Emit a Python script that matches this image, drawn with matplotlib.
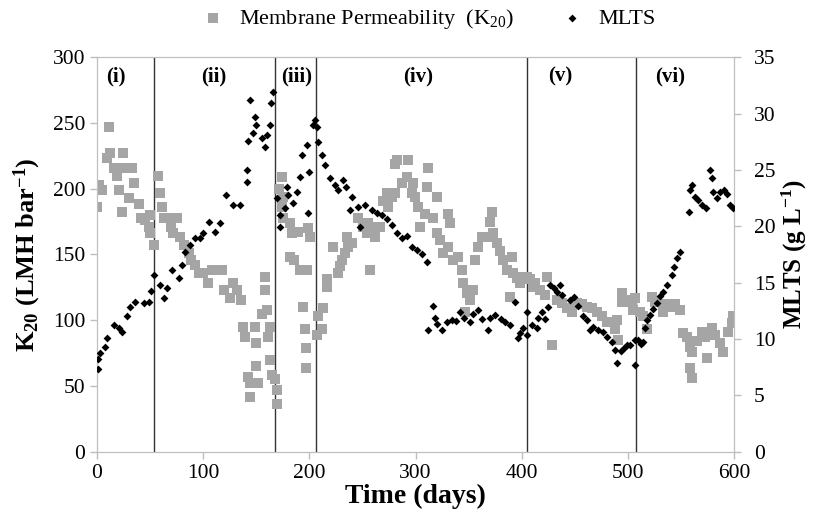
import matplotlib
matplotlib.use("Agg")
import matplotlib.pyplot as plt

plt.rcParams['font.family'] = ['Liberation Serif', 'DejaVu Serif']
plt.rcParams['mathtext.fontset'] = 'custom'
plt.rcParams['mathtext.rm'] = 'Liberation Serif'
plt.rcParams['mathtext.it'] = 'Liberation Serif:italic'
plt.rcParams['mathtext.bf'] = 'Liberation Serif:bold'

# membrane permeability K20 (LMH/bar) vs time (days)
k20_day = [0, 2, 5, 9.5, 11, 12, 16, 19, 21, 23.5, 25, 26, 30, 33, 35, 40, 42, 45, 49, 50, 50, 54,
           58, 59, 61, 63, 68, 70, 72, 75, 78, 82, 87, 89, 92, 96, 100, 105, 108, 114, 118, 120,
           125, 128, 132, 136, 137.5, 139, 142, 144, 144, 149, 150, 150, 152, 155, 158, 158, 160,
           161, 163, 163, 165, 167.6, 169.5, 169.5,
           171, 174, 175, 174, 175, 182, 183.6, 189, 182, 186, 191, 198, 199, 200.6, 194, 196,
           197, 197,
           207, 208, 212, 213, 216.6, 216.6, 222, 227, 229, 230.6, 233.6, 235.5, 236, 240, 246,
           250.5, 254, 255, 257, 260, 262, 266.5, 269, 273, 274, 278, 280.7, 280.7, 282.6, 287,
           292, 293, 297, 297.6, 299.5, 302, 304, 309, 311, 312, 316.5, 320, 320, 323, 326,
           330.6, 332.5, 330.6, 335, 340, 343.8, 344.7, 346.6, 348.5, 351, 354, 356, 359, 362.6,
           368, 370, 372, 373, 376.7, 379.6, 382, 386, 389, 391, 392, 395.6, 398, 401, 405,
           408, 410.6, 412.5, 417, 422, 424, 428.6, 433, 438, 442.7, 447, 452, 457, 461.5, 466,
           471, 475.6, 480, 488, 490, 491, 494.5, 494.5, 499, 504, 505,
           507, 511, 514, 518, 522.7, 525.6, 533, 535, 539.7, 544, 549, 552, 555.7, 558.6, 560,
           558.6, 560, 565, 570, 572.6, 574.6, 579, 582, 587, 589.6, 594, 598, 599]
k20_val = [186, 203, 199, 223, 247, 227, 216, 210, 199, 182, 227, 216, 193, 216, 204, 188, 178, 176,
           171, 166, 180, 157,
           210, 197, 186, 178, 178, 171, 166, 178, 163, 157, 151, 146, 142, 136, 136, 128, 138,
           138, 138, 123, 117, 128, 123, 115, 95, 87, 57, 52, 42, 95, 83, 65, 52, 105, 133, 123,
           108, 87, 95, 70, 58, 55, 47, 36,
           200, 209, 194, 186, 178, 174, 166, 167, 148, 146, 138, 138, 170, 163, 110, 93, 79, 64,
           89, 103, 93, 109, 125, 131, 156, 136, 141, 146, 151, 163, 156, 159, 178, 171, 166,
           174, 138, 171, 163, 171, 191, 197, 186, 194, 197, 219, 222, 204, 209, 222, 197, 204,
           194, 186, 171, 181, 201, 216, 178, 194, 166, 161, 151, 181, 174, 156, 146, 148, 138,
           128, 106, 121, 115, 123, 146, 156, 163, 163, 175, 182, 166, 159, 153, 146, 138, 118,
           148, 136, 132, 128, 133, 133,
           131, 125, 128, 123, 119, 133, 81, 115, 113, 109, 106, 113, 112, 110, 109, 106, 103,
           99, 93, 100, 85, 121, 114, 115, 114, 108,
           117, 106, 103, 93, 118, 114, 106, 112, 110, 112, 108, 90, 87, 80, 76, 64, 56, 84, 91,
           87, 71, 94, 89, 83, 76, 91, 98, 103]

# mixed liquor total solids MLTS (g/L) vs time (days)
mlts_day = [1, 1, 3, 7.5, 9.5, 16, 21, 23.5, 28, 31, 36, 44, 49, 51, 54,
            59, 63, 66, 70.6, 77, 80, 83, 87.6, 92, 97, 100, 106, 111, 116, 122, 128, 135, 141,
            141, 142, 144, 147, 149, 150, 155, 158, 160, 163, 164, 165.5,
            169.5, 172, 172, 177, 179, 180, 184.6, 188, 191, 193, 198, 199, 200, 203, 205,
            207, 208, 212, 215, 219, 224, 227, 232, 235, 238, 240, 246, 248, 252, 259, 264, 268,
            273, 278, 282.6, 287, 292, 297, 301, 306, 311,
            312, 316, 318, 320, 325, 330, 334, 338, 342, 346, 351, 354, 359, 363, 368, 370, 375,
            380, 384, 389, 394, 396, 398, 401, 405, 405,
            410, 414, 415, 419, 422, 425, 427, 430, 433, 436, 438, 445, 449, 453, 458, 461, 464,
            467, 472, 476, 480, 485, 488, 490, 493, 496, 499, 502, 507, 507,
            509, 512, 514, 516, 518, 521, 524, 527, 530, 533, 537, 541, 543, 546, 549,
            557.6, 558.6, 560, 563, 566, 570, 573, 577, 579, 580, 584, 587, 590, 593, 596, 599]
mlts_val = [7.3, 8.2, 8.8, 9.3, 10.1, 11.2, 11.0, 10.6, 12.0, 12.8, 13.3, 13.2, 13.3, 14.3, 15.7,
            14.8, 13.6, 14.5, 16.1, 15.4, 16.6, 17.7, 18.3, 19.0, 19.0, 19.4, 20.4, 19.5, 20.3,
            22.8, 21.9, 21.9, 23.9, 25.0, 27.6, 31.2, 28.3, 29.7, 29.0, 27.8, 27.0, 28.1, 29.0,
            30.9, 31.9,
            22.5, 21.0, 19.9, 21.6, 23.5, 22.8, 22.1, 23.0, 24.4, 26.3, 27.2, 21.2, 24.8, 29.0,
            29.4,
            28.8, 27.5, 26.3, 25.4, 24.3, 23.7, 23.2, 24.1, 23.5, 21.4, 22.6, 21.7, 19.9, 21.9,
            21.4, 21.2, 21.0, 20.6, 20.1, 19.4, 19.0, 19.1, 18.2, 17.9, 17.5, 16.8,
            10.8, 12.9, 11.9, 11.3, 10.8, 11.5, 11.7, 11.6, 12.4, 11.9, 11.5, 12.2, 12.6, 11.8,
            10.8, 11.9, 12.1, 11.8, 11.5, 11.2, 13.3, 10.1, 10.5, 11.0, 10.4, 12.4,
            11.2, 11.0, 11.9, 12.4, 11.8, 12.8, 14.8, 14.5, 14.2, 14.8, 13.9, 13.5, 13.7, 12.9,
            12.0, 11.7, 10.8, 11.1, 10.8, 10.6, 10.2, 9.7, 9.0, 7.9, 8.9, 9.2, 9.5, 9.5, 9.9, 7.7,
            9.9, 9.6, 9.7, 11.0, 11.7, 12.1, 12.7, 13.2, 13.8, 14.2, 14.8, 15.7, 16.4, 17.2, 17.7,
            21.3, 23.2, 23.7, 22.6, 22.3, 21.9, 21.6, 25.0, 24.3, 23.0, 22.5, 23.0, 23.2, 22.9,
            21.9, 21.6]

phase_bounds = [54, 167.5, 206, 405, 507.5]
phase_names = ['(i)', '(ii)', '(iii)', '(iv)', '(v)', '(vi)']
phase_label_x = [18, 110, 188, 302, 436, 540]

grey = '#A5A5A5'
axis_grey = '#BFBFBF'

fig = plt.figure(figsize=(8.14, 5.29), dpi=100)
ax = fig.add_axes([0.119, 0.146, 0.783, 0.746])
ax2 = ax.twinx()

sq = ax.scatter(k20_day, k20_val, marker='s', s=46, color=grey, linewidths=0, zorder=2)
dm = ax2.scatter(mlts_day, mlts_val, marker='D', s=16, color='black', linewidths=0, zorder=3)

for xb in phase_bounds:
    ax.axvline(xb, color='#333333', lw=1.0, zorder=1)
for name, xl in zip(phase_names, phase_label_x):
    ax.text(xl, 285, name, ha='center', va='center', fontsize=15, fontweight='bold')

ax.set_xlim(0, 600)
ax.set_ylim(0, 300)
ax2.set_ylim(0, 35)
ax.set_xticks(range(0, 601, 100))
ax.set_yticks(range(0, 301, 50))
ax2.set_yticks(range(0, 36, 5))

for a in (ax, ax2):
    for s in a.spines.values():
        s.set_color(axis_grey)
    a.tick_params(labelsize=15.5, color=axis_grey, length=5, width=1)
ax2.tick_params(pad=9)

ax.set_xlabel('Time (days)', fontsize=20, fontweight='bold', labelpad=1)
ax.set_ylabel(r'K$_{\mathbf{20}}$ (LMH bar$^{\mathbf{-1}}$)', fontsize=19, fontweight='bold',
              labelpad=7)
ax2.set_ylabel(r'MLTS (g L$^{\mathbf{-1}}$)', fontsize=18, fontweight='bold', labelpad=3)

fig.legend([sq, dm], [r'Membrane Permeability  (K$_{20}$)', 'MLTS'],
           loc='upper center', bbox_to_anchor=(0.52, 1.025), ncol=2, frameon=False,
           fontsize=16, handletextpad=0.2, columnspacing=1.6, markerscale=1.0)

fig.savefig('out.png', dpi=100)
